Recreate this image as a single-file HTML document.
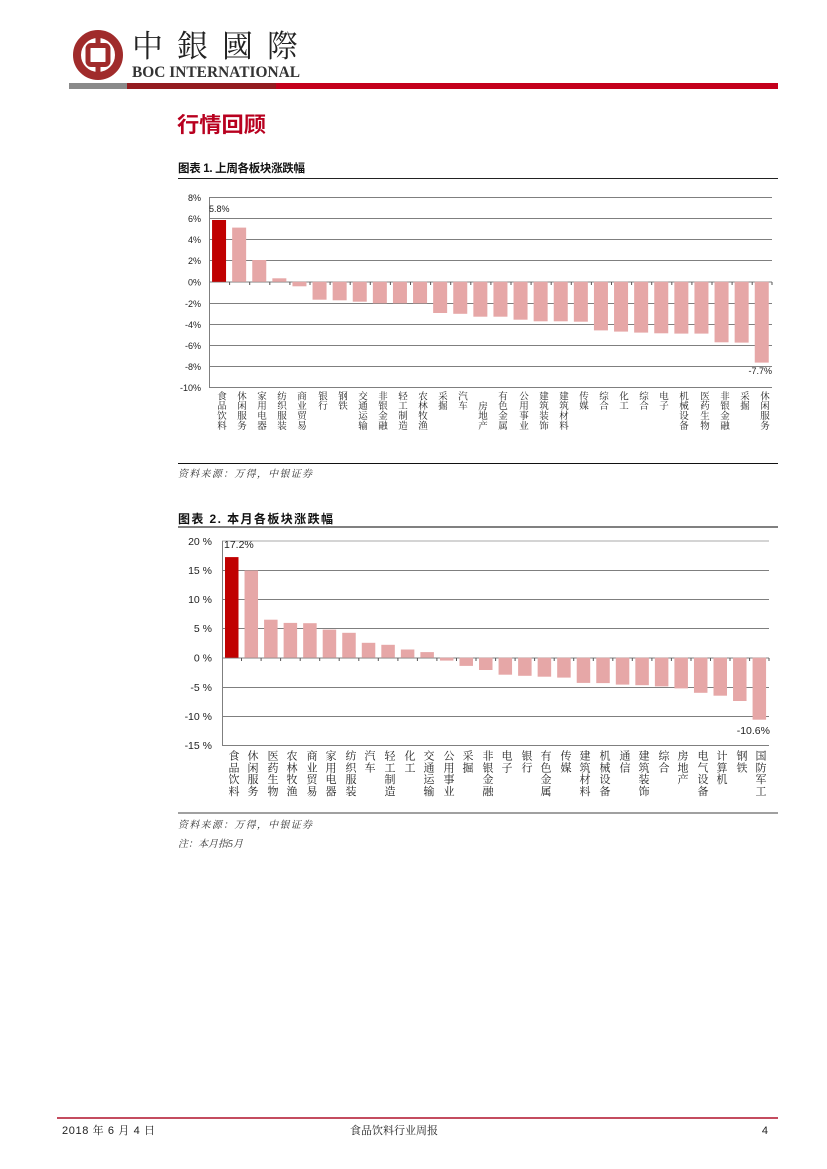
<!DOCTYPE html>
<html>
<head>
<meta charset="utf-8">
<style>
  html,body{margin:0;padding:0;background:#fff;}
  #pg{position:relative;width:827px;height:1169px;overflow:hidden;background:#fff;}
  svg{position:absolute;left:0;top:0;}
  .v1,.v2{position:absolute;writing-mode:vertical-rl;text-orientation:upright;line-height:1;white-space:nowrap;color:#222;
    font-family:"Liberation Serif","Noto Serif CJK SC",serif;}
  .v1{font-size:9.5px;letter-spacing:0.3px;width:10px;}
  .v2{font-size:11px;letter-spacing:0.75px;width:12px;}
</style>
</head>
<body>
<div id="pg">
<svg width="827" height="1169" viewBox="0 0 827 1169" xmlns="http://www.w3.org/2000/svg">
  <!-- Logo -->
  <circle cx="98" cy="55" r="21" fill="none" stroke="#a02b2b" stroke-width="8"/>
  <rect x="88" y="45.5" width="20" height="19" rx="3" fill="none" stroke="#a02b2b" stroke-width="5"/>
  <rect x="95.5" y="32" width="5" height="12" fill="#a02b2b"/>
  <rect x="95.5" y="66" width="5" height="12" fill="#a02b2b"/>
  <text x="132" y="57" font-family="Liberation Serif, Noto Serif CJK SC, serif" font-size="31" fill="#222" textLength="166" lengthAdjust="spacing">中銀國際</text>
  <text x="132" y="77" font-family="Liberation Serif, serif" font-weight="bold" font-size="15.5" fill="#333" textLength="168" lengthAdjust="spacingAndGlyphs">BOC INTERNATIONAL</text>
  <rect x="69" y="83" width="58" height="6" fill="#8a8a8a"/>
  <rect x="127" y="83" width="149" height="6" fill="#931c20"/>
  <rect x="276" y="83" width="502" height="6" fill="#c4001c"/>

  <!-- Section title -->
  <text x="177" y="132" font-family="Liberation Sans, Noto Sans CJK SC, sans-serif" font-weight="bold" font-size="21" fill="#b8001f" textLength="89" lengthAdjust="spacingAndGlyphs">行情回顾</text>

  <!-- Chart 1 title -->
  <text x="178" y="172" font-family="Liberation Sans, Noto Sans CJK SC, sans-serif" font-weight="bold" font-size="11.5" fill="#111" textLength="127" lengthAdjust="spacing">图表 1. 上周各板块涨跌幅</text>
  <line x1="178" y1="178.5" x2="778" y2="178.5" stroke="#222" stroke-width="1"/>

  <!-- Chart 1 grid -->
  <g stroke="#7f7f7f" stroke-width="1">
    <line x1="209" y1="197.5" x2="772" y2="197.5"/>
    <line x1="209" y1="218.5" x2="772" y2="218.5"/>
    <line x1="209" y1="239.5" x2="772" y2="239.5"/>
    <line x1="209" y1="260.5" x2="772" y2="260.5"/>
    <line x1="209" y1="282" x2="772" y2="282"/>
    <line x1="209" y1="303.5" x2="772" y2="303.5"/>
    <line x1="209" y1="324.5" x2="772" y2="324.5"/>
    <line x1="209" y1="345.5" x2="772" y2="345.5"/>
    <line x1="209" y1="366.5" x2="772" y2="366.5"/>
    <line x1="209" y1="387.5" x2="772" y2="387.5"/>
    <line x1="209.5" y1="197" x2="209.5" y2="388"/>
  </g>
  <g font-family="Liberation Sans, sans-serif" font-size="9" fill="#222" text-anchor="end">
    <text x="201" y="201">8%</text>
    <text x="201" y="222">6%</text>
    <text x="201" y="243">4%</text>
    <text x="201" y="264">2%</text>
    <text x="201" y="285.5">0%</text>
    <text x="201" y="307">-2%</text>
    <text x="201" y="328">-4%</text>
    <text x="201" y="349">-6%</text>
    <text x="201" y="370">-8%</text>
    <text x="201" y="391">-10%</text>
  </g>
  <!-- Chart 1 bars -->
  <rect x="212.05" y="220.0" width="14" height="61.8" fill="#c00000"/>
  <g fill="#e6a7a7">
    <rect x="232.15" y="227.6" width="14" height="54.2"/>
    <rect x="252.25" y="260.0" width="14" height="21.8"/>
    <rect x="272.35" y="278.3" width="14" height="3.5"/>
    <rect x="292.45" y="281.8" width="14" height="4.5"/>
    <rect x="312.55" y="281.8" width="14" height="17.9"/>
    <rect x="332.65" y="281.8" width="14" height="18.5"/>
    <rect x="352.75" y="281.8" width="14" height="19.9"/>
    <rect x="372.85" y="281.8" width="14" height="21.5"/>
    <rect x="392.95" y="281.8" width="14" height="21.5"/>
    <rect x="413.05" y="281.8" width="14" height="21.5"/>
    <rect x="433.15" y="281.8" width="14" height="31.2"/>
    <rect x="453.25" y="281.8" width="14" height="32.0"/>
    <rect x="473.35" y="281.8" width="14" height="34.9"/>
    <rect x="493.45" y="281.8" width="14" height="34.9"/>
    <rect x="513.55" y="281.8" width="14" height="37.9"/>
    <rect x="533.65" y="281.8" width="14" height="39.5"/>
    <rect x="553.75" y="281.8" width="14" height="39.5"/>
    <rect x="573.85" y="281.8" width="14" height="39.9"/>
    <rect x="593.95" y="281.8" width="14" height="48.6"/>
    <rect x="614.05" y="281.8" width="14" height="49.8"/>
    <rect x="634.15" y="281.8" width="14" height="50.8"/>
    <rect x="654.25" y="281.8" width="14" height="51.5"/>
    <rect x="674.35" y="281.8" width="14" height="51.8"/>
    <rect x="694.45" y="281.8" width="14" height="51.8"/>
    <rect x="714.55" y="281.8" width="14" height="60.5"/>
    <rect x="734.65" y="281.8" width="14" height="60.8"/>
    <rect x="754.75" y="281.8" width="14" height="80.8"/>
  </g>
  <!-- Chart 1 ticks on zero line -->
  <g stroke="#555" stroke-width="1">
    <line x1="229.6" y1="282" x2="229.6" y2="285"/><line x1="249.7" y1="282" x2="249.7" y2="285"/>
    <line x1="269.8" y1="282" x2="269.8" y2="285"/><line x1="289.9" y1="282" x2="289.9" y2="285"/>
    <line x1="310" y1="282" x2="310" y2="285"/><line x1="330.1" y1="282" x2="330.1" y2="285"/>
    <line x1="350.2" y1="282" x2="350.2" y2="285"/><line x1="370.3" y1="282" x2="370.3" y2="285"/>
    <line x1="390.4" y1="282" x2="390.4" y2="285"/><line x1="410.5" y1="282" x2="410.5" y2="285"/>
    <line x1="430.6" y1="282" x2="430.6" y2="285"/><line x1="450.7" y1="282" x2="450.7" y2="285"/>
    <line x1="470.8" y1="282" x2="470.8" y2="285"/><line x1="490.9" y1="282" x2="490.9" y2="285"/>
    <line x1="511" y1="282" x2="511" y2="285"/><line x1="531.1" y1="282" x2="531.1" y2="285"/>
    <line x1="551.2" y1="282" x2="551.2" y2="285"/><line x1="571.3" y1="282" x2="571.3" y2="285"/>
    <line x1="591.4" y1="282" x2="591.4" y2="285"/><line x1="611.5" y1="282" x2="611.5" y2="285"/>
    <line x1="631.6" y1="282" x2="631.6" y2="285"/><line x1="651.7" y1="282" x2="651.7" y2="285"/>
    <line x1="671.8" y1="282" x2="671.8" y2="285"/><line x1="691.9" y1="282" x2="691.9" y2="285"/>
    <line x1="712" y1="282" x2="712" y2="285"/><line x1="732.1" y1="282" x2="732.1" y2="285"/>
    <line x1="752.2" y1="282" x2="752.2" y2="285"/><line x1="772" y1="282" x2="772" y2="285"/>
  </g>
  <g font-family="Liberation Sans, sans-serif" font-size="9" fill="#222">
    <text x="209" y="212">5.8%</text>
    <text x="772" y="374" text-anchor="end">-7.7%</text>
  </g>

  <!-- Chart 1 source -->
  <line x1="178" y1="463.5" x2="778" y2="463.5" stroke="#111" stroke-width="1"/>
  <text x="178" y="477" font-family="Liberation Serif, Noto Serif CJK SC, serif" font-style="italic" font-size="10" fill="#333" textLength="134" lengthAdjust="spacing">资料来源：万得，中银证券</text>

  <!-- Chart 2 title -->
  <text x="178" y="523" font-family="Liberation Sans, Noto Sans CJK SC, sans-serif" font-weight="bold" font-size="12" fill="#111" textLength="155" lengthAdjust="spacing">图表 2. 本月各板块涨跌幅</text>
  <line x1="178" y1="527" x2="778" y2="527" stroke="#808080" stroke-width="2"/>

  <!-- Chart 2 grid -->
  <g stroke="#7f7f7f" stroke-width="1">
    <line x1="222" y1="541" x2="769" y2="541" stroke="#aaa"/>
    <line x1="222" y1="570.5" x2="769" y2="570.5"/>
    <line x1="222" y1="599.5" x2="769" y2="599.5"/>
    <line x1="222" y1="628.5" x2="769" y2="628.5"/>
    <line x1="222" y1="658" x2="769" y2="658"/>
    <line x1="222" y1="687.5" x2="769" y2="687.5"/>
    <line x1="222" y1="716.5" x2="769" y2="716.5"/>
    <line x1="222" y1="745.5" x2="769" y2="745.5"/>
    <line x1="222.5" y1="541" x2="222.5" y2="746"/>
  </g>
  <g font-family="Liberation Sans, sans-serif" font-size="10.5" fill="#222" text-anchor="end">
    <text x="212" y="545">20 %</text>
    <text x="212" y="574">15 %</text>
    <text x="212" y="603">10 %</text>
    <text x="212" y="632">5 %</text>
    <text x="212" y="661.5">0 %</text>
    <text x="212" y="691">-5 %</text>
    <text x="212" y="720">-10 %</text>
    <text x="212" y="749">-15 %</text>
  </g>
  <!-- Chart 2 bars -->
  <rect x="225" y="557.1" width="13.5" height="100.6" fill="#c00000"/>
  <g fill="#e6a7a7">
    <rect x="244.54" y="570.5" width="13.5" height="87.2"/>
    <rect x="264.08" y="619.7" width="13.5" height="38.0"/>
    <rect x="283.62" y="622.9" width="13.5" height="34.8"/>
    <rect x="303.16" y="623.2" width="13.5" height="34.5"/>
    <rect x="322.7" y="629.6" width="13.5" height="28.1"/>
    <rect x="342.24" y="632.8" width="13.5" height="24.9"/>
    <rect x="361.78" y="642.8" width="13.5" height="14.9"/>
    <rect x="381.32" y="644.8" width="13.5" height="12.9"/>
    <rect x="400.86" y="649.5" width="13.5" height="8.2"/>
    <rect x="420.4" y="652.1" width="13.5" height="5.6"/>
    <rect x="439.94" y="657.7" width="13.5" height="2.9"/>
    <rect x="459.48" y="657.7" width="13.5" height="8.2"/>
    <rect x="479.02" y="657.7" width="13.5" height="12.3"/>
    <rect x="498.56" y="657.7" width="13.5" height="17.0"/>
    <rect x="518.1" y="657.7" width="13.5" height="18.1"/>
    <rect x="537.64" y="657.7" width="13.5" height="19.0"/>
    <rect x="557.18" y="657.7" width="13.5" height="19.9"/>
    <rect x="576.72" y="657.7" width="13.5" height="25.2"/>
    <rect x="596.26" y="657.7" width="13.5" height="25.4"/>
    <rect x="615.8" y="657.7" width="13.5" height="26.9"/>
    <rect x="635.34" y="657.7" width="13.5" height="27.5"/>
    <rect x="654.88" y="657.7" width="13.5" height="28.7"/>
    <rect x="674.42" y="657.7" width="13.5" height="30.7"/>
    <rect x="693.96" y="657.7" width="13.5" height="35.1"/>
    <rect x="713.5" y="657.7" width="13.5" height="38.0"/>
    <rect x="733.04" y="657.7" width="13.5" height="43.3"/>
    <rect x="752.58" y="657.7" width="13.5" height="62.0"/>
  </g>
  <g stroke="#555" stroke-width="1">
    <line x1="241.5" y1="658" x2="241.5" y2="661"/><line x1="261.1" y1="658" x2="261.1" y2="661"/>
    <line x1="280.6" y1="658" x2="280.6" y2="661"/><line x1="300.2" y1="658" x2="300.2" y2="661"/>
    <line x1="319.7" y1="658" x2="319.7" y2="661"/><line x1="339.2" y1="658" x2="339.2" y2="661"/>
    <line x1="358.8" y1="658" x2="358.8" y2="661"/><line x1="378.3" y1="658" x2="378.3" y2="661"/>
    <line x1="397.9" y1="658" x2="397.9" y2="661"/><line x1="417.4" y1="658" x2="417.4" y2="661"/>
    <line x1="436.9" y1="658" x2="436.9" y2="661"/><line x1="456.5" y1="658" x2="456.5" y2="661"/>
    <line x1="476" y1="658" x2="476" y2="661"/><line x1="495.6" y1="658" x2="495.6" y2="661"/>
    <line x1="515.1" y1="658" x2="515.1" y2="661"/><line x1="534.6" y1="658" x2="534.6" y2="661"/>
    <line x1="554.2" y1="658" x2="554.2" y2="661"/><line x1="573.7" y1="658" x2="573.7" y2="661"/>
    <line x1="593.3" y1="658" x2="593.3" y2="661"/><line x1="612.8" y1="658" x2="612.8" y2="661"/>
    <line x1="632.3" y1="658" x2="632.3" y2="661"/><line x1="651.9" y1="658" x2="651.9" y2="661"/>
    <line x1="671.4" y1="658" x2="671.4" y2="661"/><line x1="691" y1="658" x2="691" y2="661"/>
    <line x1="710.5" y1="658" x2="710.5" y2="661"/><line x1="730" y1="658" x2="730" y2="661"/>
    <line x1="749.6" y1="658" x2="749.6" y2="661"/><line x1="769" y1="658" x2="769" y2="661"/>
  </g>
  <g font-family="Liberation Sans, sans-serif" font-size="10.5" fill="#222">
    <text x="224" y="548">17.2%</text>
    <text x="770" y="734" text-anchor="end">-10.6%</text>
  </g>

  <!-- Chart 2 source -->
  <line x1="178" y1="813" x2="778" y2="813" stroke="#808080" stroke-width="1.5"/>
  <text x="178" y="828" font-family="Liberation Serif, Noto Serif CJK SC, serif" font-style="italic" font-size="10" fill="#333" textLength="134" lengthAdjust="spacing">资料来源：万得，中银证券</text>
  <text x="178" y="847" font-family="Liberation Serif, Noto Serif CJK SC, serif" font-style="italic" font-size="10" fill="#333">注：本月指5月</text>

  <!-- Footer -->
  <line x1="57" y1="1118" x2="778" y2="1118" stroke="#b0102a" stroke-width="1.5"/>
  <g font-family="Liberation Sans, Noto Serif CJK SC, serif" font-size="11" fill="#222">
    <text x="62" y="1134" textLength="93" lengthAdjust="spacing">2018 年 6 月 4 日</text>
    <text x="394" y="1134" text-anchor="middle">食品饮料行业周报</text>
    <text x="768" y="1134" text-anchor="end">4</text>
  </g>
</svg>

<!-- Chart 1 vertical category labels -->
<div class="v1" style="left:214px;top:391px;">食品饮料</div>
<div class="v1" style="left:234px;top:391px;">休闲服务</div>
<div class="v1" style="left:254px;top:391px;">家用电器</div>
<div class="v1" style="left:274px;top:391px;">纺织服装</div>
<div class="v1" style="left:294px;top:391px;">商业贸易</div>
<div class="v1" style="left:315px;top:391px;">银行</div>
<div class="v1" style="left:335px;top:391px;">钢铁</div>
<div class="v1" style="left:355px;top:391px;">交通运输</div>
<div class="v1" style="left:375px;top:391px;">非银金融</div>
<div class="v1" style="left:395px;top:391px;">轻工制造</div>
<div class="v1" style="left:415px;top:391px;">农林牧渔</div>
<div class="v1" style="left:435px;top:391px;">采掘</div>
<div class="v1" style="left:455px;top:391px;">汽车</div>
<div class="v1" style="left:475px;top:401px;">房地产</div>
<div class="v1" style="left:495px;top:391px;">有色金属</div>
<div class="v1" style="left:516px;top:391px;">公用事业</div>
<div class="v1" style="left:536px;top:391px;">建筑装饰</div>
<div class="v1" style="left:556px;top:391px;">建筑材料</div>
<div class="v1" style="left:576px;top:391px;">传媒</div>
<div class="v1" style="left:596px;top:391px;">综合</div>
<div class="v1" style="left:616px;top:391px;">化工</div>
<div class="v1" style="left:636px;top:391px;">综合</div>
<div class="v1" style="left:656px;top:391px;">电子</div>
<div class="v1" style="left:676px;top:391px;">机械设备</div>
<div class="v1" style="left:697px;top:391px;">医药生物</div>
<div class="v1" style="left:717px;top:391px;">非银金融</div>
<div class="v1" style="left:737px;top:391px;">采掘</div>
<div class="v1" style="left:757px;top:391px;">休闲服务</div>

<!-- Chart 2 vertical category labels -->
<div class="v2" style="left:226px;top:750px;">食品饮料</div>
<div class="v2" style="left:245px;top:750px;">休闲服务</div>
<div class="v2" style="left:265px;top:750px;">医药生物</div>
<div class="v2" style="left:284px;top:750px;">农林牧渔</div>
<div class="v2" style="left:304px;top:750px;">商业贸易</div>
<div class="v2" style="left:323px;top:750px;">家用电器</div>
<div class="v2" style="left:343px;top:750px;">纺织服装</div>
<div class="v2" style="left:362px;top:750px;">汽车</div>
<div class="v2" style="left:382px;top:750px;">轻工制造</div>
<div class="v2" style="left:402px;top:750px;">化工</div>
<div class="v2" style="left:421px;top:750px;">交通运输</div>
<div class="v2" style="left:441px;top:750px;">公用事业</div>
<div class="v2" style="left:460px;top:750px;">采掘</div>
<div class="v2" style="left:480px;top:750px;">非银金融</div>
<div class="v2" style="left:499px;top:750px;">电子</div>
<div class="v2" style="left:519px;top:750px;">银行</div>
<div class="v2" style="left:538px;top:750px;">有色金属</div>
<div class="v2" style="left:558px;top:750px;">传媒</div>
<div class="v2" style="left:577px;top:750px;">建筑材料</div>
<div class="v2" style="left:597px;top:750px;">机械设备</div>
<div class="v2" style="left:617px;top:750px;">通信</div>
<div class="v2" style="left:636px;top:750px;">建筑装饰</div>
<div class="v2" style="left:656px;top:750px;">综合</div>
<div class="v2" style="left:675px;top:750px;">房地产</div>
<div class="v2" style="left:695px;top:750px;">电气设备</div>
<div class="v2" style="left:714px;top:750px;">计算机</div>
<div class="v2" style="left:734px;top:750px;">钢铁</div>
<div class="v2" style="left:753px;top:750px;">国防军工</div>
</div>
</body>
</html>
